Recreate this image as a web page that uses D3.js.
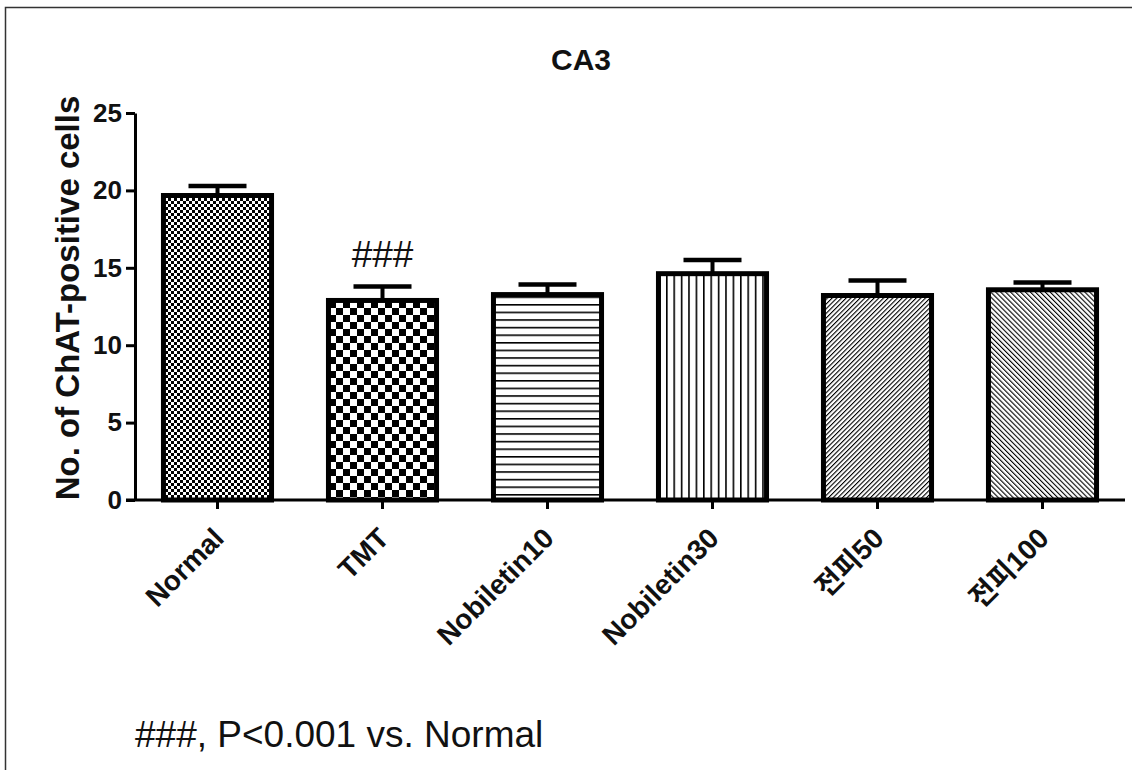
<!DOCTYPE html>
<html>
<head>
<meta charset="utf-8">
<script src="https://cdn.jsdelivr.net/npm/d3@7"></script>
<style>
  body { margin: 0; background: #fff; }
  text { font-family: "Liberation Sans", Arial, "Noto Sans CJK KR", sans-serif; fill: #111; }
</style>
</head>
<body>
<svg id="chart" width="1132" height="770"></svg>
<script>
// data
const groups = ["Normal", "TMT", "Nobiletin10", "Nobiletin30", "전피50", "전피100"];
const means = [19.67, 12.89, 13.27, 14.62, 13.21, 13.58];
const sems = [0.61, 0.9, 0.65, 0.88, 0.97, 0.47];
const patterns = ["fineCheck", "coarseCheck", "hLines", "vLines", "diagUp", "diagDown"];
const yTicks = [0, 5, 10, 15, 20, 25];

const svg = d3.select("#chart");

// frame round the figure
svg.append("rect")
  .attr("x", 5.5).attr("y", 7.5)
  .attr("width", 1200).attr("height", 900)
  .attr("fill", "none").attr("stroke", "#333").attr("stroke-width", 1.5);

// fill patterns
const defs = svg.append("defs");

let p = defs.append("pattern").attr("id", "fineCheck").attr("patternUnits", "userSpaceOnUse")
  .attr("width", 6).attr("height", 6);
p.append("rect").attr("width", 6).attr("height", 6).attr("fill", "#fff");
p.append("rect").attr("width", 3).attr("height", 3).attr("fill", "#000");
p.append("rect").attr("x", 3).attr("y", 3).attr("width", 3).attr("height", 3).attr("fill", "#000");

p = defs.append("pattern").attr("id", "coarseCheck").attr("patternUnits", "userSpaceOnUse")
  .attr("width", 14).attr("height", 14);
p.append("rect").attr("width", 14).attr("height", 14).attr("fill", "#fff");
p.append("rect").attr("width", 7).attr("height", 7).attr("fill", "#000");
p.append("rect").attr("x", 7).attr("y", 7).attr("width", 7).attr("height", 7).attr("fill", "#000");

p = defs.append("pattern").attr("id", "hLines").attr("patternUnits", "userSpaceOnUse")
  .attr("width", 10).attr("height", 7.6);
p.append("rect").attr("width", 10).attr("height", 7.6).attr("fill", "#fff");
p.append("rect").attr("y", 0).attr("width", 10).attr("height", 1.6).attr("fill", "#000");

p = defs.append("pattern").attr("id", "vLines").attr("patternUnits", "userSpaceOnUse")
  .attr("width", 7.4).attr("height", 10);
p.append("rect").attr("width", 7.4).attr("height", 10).attr("fill", "#fff");
p.append("rect").attr("x", 0).attr("width", 1.6).attr("height", 10).attr("fill", "#000");

p = defs.append("pattern").attr("id", "diagUp").attr("patternUnits", "userSpaceOnUse")
  .attr("width", 3.3).attr("height", 10).attr("patternTransform", "rotate(45)");
p.append("rect").attr("width", 3.3).attr("height", 10).attr("fill", "#fff");
p.append("rect").attr("width", 1.1).attr("height", 10).attr("fill", "#000");

p = defs.append("pattern").attr("id", "diagDown").attr("patternUnits", "userSpaceOnUse")
  .attr("width", 3.5).attr("height", 10).attr("patternTransform", "rotate(-45)");
p.append("rect").attr("width", 3.5).attr("height", 10).attr("fill", "#fff");
p.append("rect").attr("width", 1.1).attr("height", 10).attr("fill", "#000");

// scales
const x = d3.scaleBand().domain(groups).range([135, 1125])
  .paddingInner(0.345).paddingOuter(0.1725);
const y = d3.scaleLinear().domain([0, 25]).range([500, 113]);

// bars
svg.selectAll("rect.bar")
  .data(groups)
  .enter()
  .append("rect")
  .attr("class", "bar")
  .attr("x", d => x(d))
  .attr("y", (d, i) => y(means[i]))
  .attr("width", x.bandwidth())
  .attr("height", (d, i) => y(0) - y(means[i]))
  .attr("fill", (d, i) => `url(#${patterns[i]})`)
  .attr("stroke", "#000")
  .attr("stroke-width", 5);

// error bars (upper only)
const err = svg.append("g").attr("stroke", "#000");
groups.forEach((g, i) => {
  const cx = x(g) + x.bandwidth() / 2;
  err.append("line")
    .attr("x1", cx).attr("x2", cx)
    .attr("y1", y(means[i])).attr("y2", y(means[i] + sems[i]))
    .attr("stroke-width", 4);
  err.append("line")
    .attr("x1", cx - 29).attr("x2", cx + 29)
    .attr("y1", y(means[i] + sems[i])).attr("y2", y(means[i] + sems[i]))
    .attr("stroke-width", 4.5);
});

// axes
const yAxis = svg.append("g")
  .attr("transform", "translate(135,0)")
  .call(d3.axisLeft(y).tickValues(yTicks).tickSize(9).tickPadding(4).tickSizeOuter(0));
yAxis.select(".domain").attr("stroke", "#000").attr("stroke-width", 3);
yAxis.selectAll(".tick line").attr("stroke", "#000").attr("stroke-width", 3);
yAxis.selectAll(".tick text")
  .attr("font-size", 26).attr("font-weight", "bold").attr("fill", "#111")
  .style("font-family", '"Liberation Sans", Arial, sans-serif');

const xAxis = svg.append("g")
  .attr("transform", "translate(0,500)")
  .call(d3.axisBottom(x).tickSize(9).tickSizeOuter(0));
xAxis.select(".domain").attr("stroke", "#000").attr("stroke-width", 3)
  .attr("d", "M126,0H1125");
xAxis.selectAll(".tick line").attr("stroke", "#000").attr("stroke-width", 3);
xAxis.selectAll(".tick text")
  .attr("font-size", 28).attr("font-weight", "bold").attr("fill", "#111")
  .attr("text-anchor", "end")
  .attr("y", 0).attr("dy", 0)
  .attr("transform", "translate(8,40) rotate(-45)")
  .style("font-family", '"Liberation Sans", Arial, "Noto Sans CJK KR", sans-serif');

// title and axis label
svg.append("text")
  .attr("x", 581).attr("y", 70)
  .attr("text-anchor", "middle")
  .attr("font-size", 30).attr("font-weight", "bold")
  .text("CA3");

svg.append("text")
  .attr("transform", "translate(79,298) rotate(-90)")
  .attr("text-anchor", "middle")
  .attr("font-size", 33).attr("font-weight", "bold")
  .text("No. of ChAT-positive cells");

// significance mark over TMT
svg.append("text")
  .attr("x", x("TMT") + x.bandwidth() / 2)
  .attr("y", 267)
  .attr("text-anchor", "middle")
  .attr("font-size", 37)
  .text("###");

// footnote
svg.append("text")
  .attr("x", 135).attr("y", 747)
  .attr("font-size", 37)
  .text("###, P<0.001 vs. Normal");
</script>
</body>
</html>
